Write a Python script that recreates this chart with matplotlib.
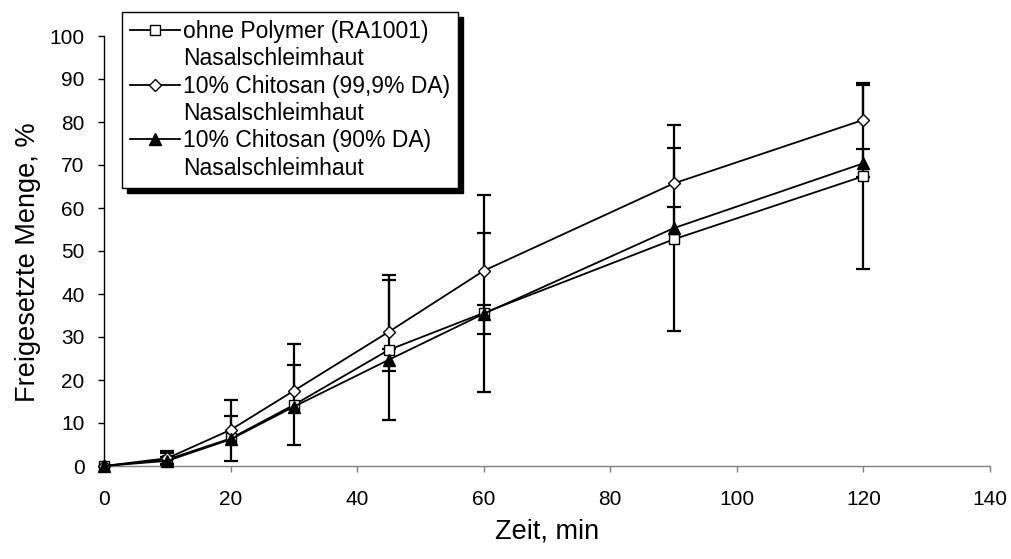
import numpy as np
import matplotlib
matplotlib.use("Agg")
import matplotlib.pyplot as plt
from matplotlib.lines import Line2D
from matplotlib.patches import Rectangle

plt.rcParams['font.family'] = ['Liberation Sans', 'DejaVu Sans']

# ---- data ----
time = [0, 10, 20, 30, 45, 60, 90, 120]

ohne = [0, 1.5, 6.4, 14.2, 27.0, 35.6, 52.7, 67.4]
ohne_err_minus = [0, 1.6, 5.2, 9.3, 16.3, 18.5, 21.2, 21.6]
ohne_err_plus = [0, 1.6, 5.2, 9.3, 16.3, 18.5, 21.2, 21.6]

chit999 = [0, 1.8, 8.4, 17.5, 31.2, 45.4, 65.7, 80.5]
chit999_err_minus = [0, 0, 0, 0, 0, 0, 0, 0]
chit999_err_plus = [0, 1.7, 6.9, 10.8, 13.3, 17.7, 13.6, 8.1]

chit90 = [0, 1.2, 6.2, 13.8, 24.7, 35.4, 55.3, 70.4]
chit90_err_minus = [0, 0.8, 0, 0, 2.6, 4.8, 0, 3.3]
chit90_err_plus = [0, 1.0, 0, 0, 2.6, 2.0, 5.0, 3.3]

labels_main = ["ohne Polymer (RA1001)", "10% Chitosan (99,9% DA)", "10% Chitosan (90% DA)"]
label_second = "Nasalschleimhaut"

x_ticks = [0, 20, 40, 60, 80, 100, 120, 140]
y_ticks = [0, 10, 20, 30, 40, 50, 60, 70, 80, 90, 100]

# ---- figure ----
W, H = 1011, 559
fig = plt.figure(figsize=(W / 100, H / 100), dpi=100)
ax = fig.add_axes([104 / W, (H - 466) / H, (990 - 104) / W, (466 - 36) / H])

ax.set_xlim(0, 140)
ax.set_ylim(0, 100)

def draw_err(x, y, lo, hi):
    x = np.asarray(x, float)
    y = np.asarray(y, float)
    lo = np.asarray(lo, float)
    hi = np.asarray(hi, float)
    ax.vlines(x, y - lo, y + hi, colors='black', lw=1.6, zorder=2, clip_on=False)
    m = hi > 0
    ax.plot(x[m], (y + hi)[m], ls='none', marker='_', ms=9.5, mew=1.6,
            color='black', zorder=2, clip_on=False)
    m = lo > 0
    ax.plot(x[m], (y - lo)[m], ls='none', marker='_', ms=9.5, mew=1.6,
            color='black', zorder=2, clip_on=False)

draw_err(time, ohne, ohne_err_minus, ohne_err_plus)
draw_err(time, chit999, chit999_err_minus, chit999_err_plus)
draw_err(time, chit90, chit90_err_minus, chit90_err_plus)

styles = [
    dict(marker='s', ms=6.5, mfc='white', mec='black', mew=1.0),
    dict(marker='D', ms=6.0, mfc='white', mec='black', mew=1.0),
    dict(marker='^', ms=8.0, mfc='black', mec='black', mew=1.0),
]
series = [ohne, chit999, chit90]
handles = []
for s, st in zip(series, styles):
    ln, = ax.plot(time, s, color='black', lw=1.3, zorder=3, clip_on=False, **st)
    handles.append(ln)

# axes styling
for sp in ['top', 'right']:
    ax.spines[sp].set_visible(False)
ax.spines['left'].set_linewidth(1.0)
ax.spines['bottom'].set_linewidth(1.0)
ax.spines['bottom'].set_color('#808080')
ax.set_xticks(x_ticks)
ax.set_yticks(y_ticks)
ax.tick_params(axis='both', direction='out', length=4, width=1.0, labelsize=15)
ax.tick_params(axis='y', pad=10)
ax.tick_params(axis='x', color='#808080', pad=13, labelcolor='black')

fig.text(547 / W, 1 - 532 / H, "Zeit, min", fontsize=19.5, ha='center', va='center')
fig.text(28 / W, 1 - 262 / H, "Freigesetzte Menge, %", fontsize=19.5,
         ha='center', va='center', rotation=90)

# legend: one row per text line
blank = Line2D([], [], ls='none', marker=None)
leg_handles, leg_labels = [], []
for h, lab in zip(handles, labels_main):
    leg_handles += [h, blank]
    leg_labels += [lab, label_second]

leg = fig.legend(leg_handles, leg_labels, loc='upper left',
                 bbox_to_anchor=(122 / W, 1 - 12 / H), bbox_transform=fig.transFigure,
                 frameon=True, fancybox=False, framealpha=1, edgecolor='black',
                 fontsize=16.5, handlelength=2.2, handletextpad=0.1,
                 labelspacing=0.19, borderpad=0.35, borderaxespad=0)
leg.get_frame().set_linewidth(1.0)
leg.set_zorder(10)

fig.canvas.draw()
bb = leg.get_window_extent()
shadow = Rectangle((bb.x0 + 5, bb.y0 - 5), bb.width, bb.height,
                   transform=None, facecolor='black', edgecolor='black', zorder=9)
fig.add_artist(shadow)

fig.savefig("out.png", dpi=100)
